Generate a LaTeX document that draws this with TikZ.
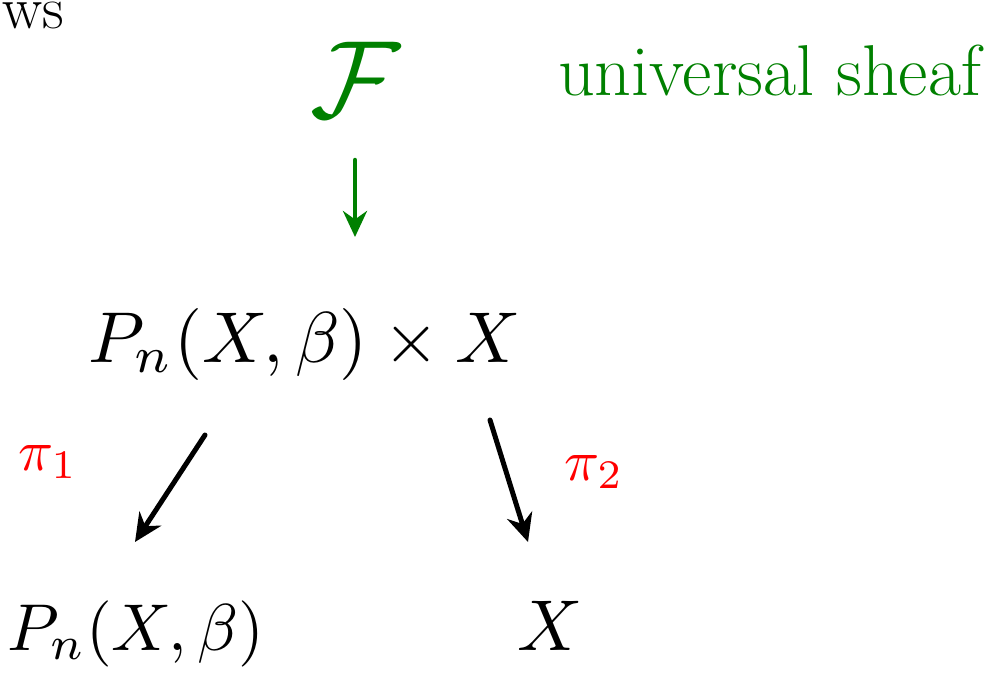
\documentclass[tikz,border=0pt]{standalone}
\usetikzlibrary{arrows.meta,calc}
\definecolor{inkgreen}{RGB}{0,128,0}
\definecolor{inkred}{RGB}{255,0,0}
\begin{document}
\begin{tikzpicture}[x=1pt,y=-1pt,
  bigmath/.style={inner sep=0pt,scale=7.2,transform shape},
  lbl/.style={inner sep=0pt,text=inkred,scale=5.8,transform shape},
  blackarr/.style={line width=5pt,line cap=round,-{Stealth[length=28pt,width=26pt]}},
  greenarr/.style={draw=inkgreen,line width=4.5pt,line cap=round,-{Stealth[length=26pt,width=24pt]}}]
\useasboundingbox (0,0) rectangle (993,672);
% word fragment in the top-left corner
\node[anchor=base west,inner sep=0pt,font=\fontsize{60}{60}\selectfont] (ws) at (2,28) {ws};
% universal sheaf
\node[inner sep=0pt,text=inkgreen,scale=11,transform shape] (f) at (355,80) {$\mathcal{F}$};
\node[anchor=base west,inner sep=0pt,text=inkgreen,font=\fontsize{72}{72}\selectfont] (us) at (558,95) {universal sheaf};
% objects
\node[bigmath,anchor=base] (top) at (305,362) {$P_n(X,\beta)\times X$};
\node[bigmath,anchor=base,scale=0.92] (bl) at (136,650) {$P_n(X,\beta)$};
\node[bigmath,anchor=base] (br) at (550,650) {$X$};
% projection labels
\node[lbl] (p1) at (48,462) {$\pi_1$};
\node[lbl] (p2) at (594,472) {$\pi_2$};
% arrows
\draw[greenarr] ($(f)+(0,80)$) -- ($(f)+(0,157)$);
\draw[blackarr] ($(top.base)+(-100,73)$) -- ($(bl.base)+(-1,-108)$);
\draw[blackarr] ($(top.base)+(185,58)$) -- ($(br.base)+(-22,-108)$);
\end{tikzpicture}
\end{document}
